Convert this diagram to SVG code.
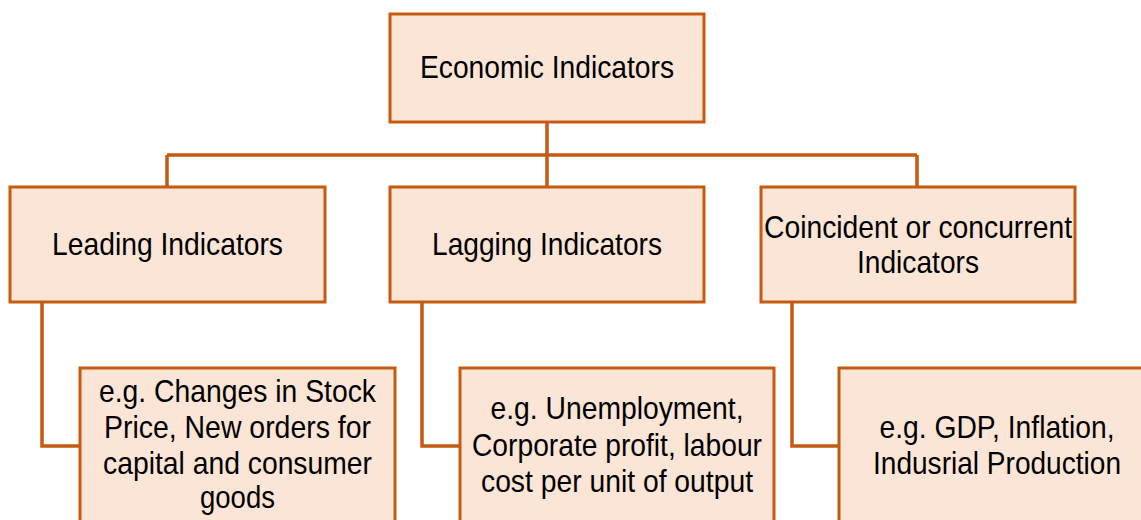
<svg xmlns="http://www.w3.org/2000/svg" width="1141" height="520" viewBox="0 0 1141 520">
<style>
.box{fill:#FBE5D6;stroke:#C55A11;stroke-width:3}
.ln{fill:none;stroke:#C55A11;stroke-width:3.5}
text{font-family:"Liberation Sans",Arial,sans-serif;font-size:32px;fill:#000;text-anchor:middle}
</style>
<rect width="1141" height="520" fill="#fff"/>
<g id="connectors">
<path class="ln" d="M547 122V187M167 155H917M167 155V187M917 155V187"/>
<path class="ln" d="M42 302V446H80"/>
<path class="ln" d="M422 302V446H460"/>
<path class="ln" d="M792 302V446H839"/>
</g>
<g id="economic">
<rect class="box" x="390" y="14" width="314" height="108"/>
<text x="547" y="78" textLength="254" lengthAdjust="spacingAndGlyphs">Economic Indicators</text>
</g>
<g id="leading">
<rect class="box" x="10" y="187" width="315" height="115"/>
<text x="167.5" y="255" textLength="231" lengthAdjust="spacingAndGlyphs">Leading Indicators</text>
</g>
<g id="lagging">
<rect class="box" x="390" y="187" width="314" height="115"/>
<text x="547" y="255" textLength="230" lengthAdjust="spacingAndGlyphs">Lagging Indicators</text>
</g>
<g id="coincident">
<rect class="box" x="761" y="187" width="314" height="115"/>
<text x="918" y="238" textLength="308" lengthAdjust="spacingAndGlyphs">Coincident or concurrent</text>
<text x="918" y="273" textLength="122" lengthAdjust="spacingAndGlyphs">Indicators</text>
</g>
<g id="leading-eg">
<rect class="box" x="80" y="368" width="315" height="154"/>
<text x="237.5" y="402" textLength="277" lengthAdjust="spacingAndGlyphs">e.g. Changes in Stock</text>
<text x="237.5" y="438" textLength="267" lengthAdjust="spacingAndGlyphs">Price, New orders for</text>
<text x="237.5" y="474" textLength="269" lengthAdjust="spacingAndGlyphs">capital and consumer</text>
<text x="237.5" y="508" textLength="75" lengthAdjust="spacingAndGlyphs">goods</text>
</g>
<g id="lagging-eg">
<rect class="box" x="460" y="368" width="314" height="154"/>
<text x="617" y="419" textLength="253" lengthAdjust="spacingAndGlyphs">e.g. Unemployment,</text>
<text x="617" y="456" textLength="290" lengthAdjust="spacingAndGlyphs">Corporate profit, labour</text>
<text x="617" y="492" textLength="272" lengthAdjust="spacingAndGlyphs">cost per unit of output</text>
</g>
<g id="coincident-eg">
<rect class="box" x="839" y="368" width="303.5" height="154"/>
<text x="997" y="438" textLength="235" lengthAdjust="spacingAndGlyphs">e.g. GDP, Inflation,</text>
<text x="997" y="474" textLength="248" lengthAdjust="spacingAndGlyphs">Indusrial Production</text>
</g>
</svg>
